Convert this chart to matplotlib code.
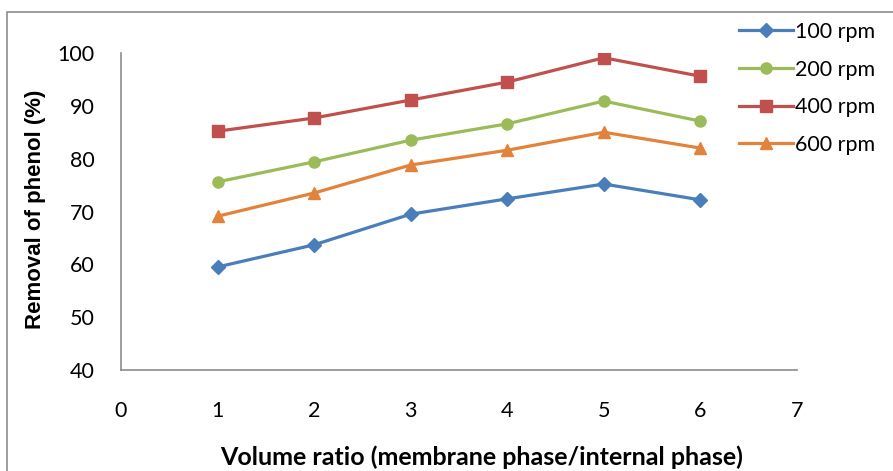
import matplotlib.pyplot as plt
from matplotlib.patches import Rectangle

# Volume ratio vs phenol removal at several stirring speeds
ratio = [1, 2, 3, 4, 5, 6]
rpm_100 = [59.5, 63.7, 69.5, 72.4, 75.2, 72.2]
rpm_200 = [75.6, 79.4, 83.5, 86.6, 90.9, 87.1]
rpm_400 = [85.2, 87.7, 91.1, 94.5, 99.1, 95.6]
rpm_600 = [69.1, 73.5, 78.8, 81.6, 85.0, 82.0]
labels = ['100 rpm', '200 rpm', '400 rpm', '600 rpm']

plt.rcParams['font.family'] = ['Lato', 'DejaVu Sans']

W, H = 893, 471
fig = plt.figure(figsize=(W / 100, H / 100), dpi=100)
ax = fig.add_axes([121 / W, 1 - 370 / H, 676 / W, 317 / H])

# outer chart border
fig.patches.append(Rectangle((7 / W, -0.1), 1.2, 1 - 12 / H + 0.1,
                             transform=fig.transFigure, fill=False,
                             edgecolor='#8c8c8c', linewidth=1.2))

series = [
    (rpm_100, '#4A7EBB', 'D', 7),
    (rpm_200, '#9BBB59', 'o', 8),
    (rpm_400, '#C0504D', 's', 8),
    (rpm_600, '#E3823A', '^', 8),
]
for (vals, color, marker, ms), lab in zip(series, labels):
    ax.plot(ratio, vals, color=color, linewidth=2.3, marker=marker,
            markersize=ms, label=lab)

ax.set_xlim(0, 7)
ax.set_ylim(40, 100)
ax.set_xticks(range(0, 8))
ax.set_yticks(range(40, 101, 10))
ax.tick_params(axis='both', length=0, labelsize=15.5)
ax.tick_params(axis='x', pad=22)
ax.tick_params(axis='y', pad=19)

for side in ['top', 'right']:
    ax.spines[side].set_visible(False)
for side in ['left', 'bottom']:
    ax.spines[side].set_color('#8c8c8c')
    ax.spines[side].set_linewidth(1.2)

ax.set_xlabel('Volume ratio (membrane phase/internal phase)',
              fontsize=18, fontweight='bold')
ax.xaxis.set_label_coords(482 / W, 1 - 445 / H, transform=fig.transFigure)
ax.set_ylabel('Removal of phenol (%)', fontsize=16, fontweight='bold',
              family=['Liberation Sans', 'DejaVu Sans'])
ax.yaxis.set_label_coords(46 / W, 1 - 209 / H, transform=fig.transFigure)

ax.legend(loc='upper left', bbox_to_anchor=(739 / W, 1 - 22 / H),
          bbox_transform=fig.transFigure, frameon=False, fontsize=15.5,
          handlelength=2.5, handletextpad=0.1, labelspacing=0.82,
          borderaxespad=0, borderpad=0)

fig.savefig('out.png', dpi=100)
